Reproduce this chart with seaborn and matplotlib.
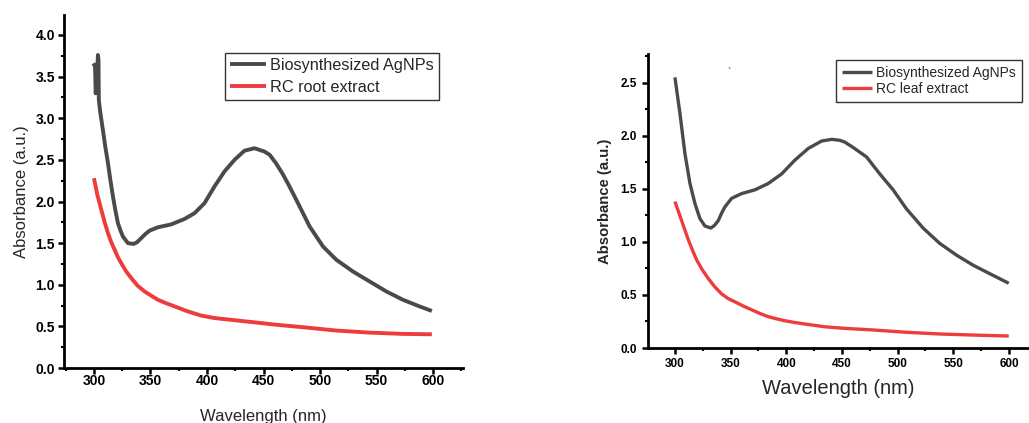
import matplotlib
matplotlib.use("Agg")
import matplotlib.pyplot as plt
import seaborn as sns
import pandas as pd
from matplotlib.ticker import MultipleLocator, FormatStrFormatter

# ---- Data ----
# Left panel: Biosynthesized AgNPs (root-based) and RC root extract
wl_np_a = [299.5, 301, 301.5, 302.5, 303.5, 304, 304.3, 305.5, 307.9, 310, 312.4, 314.5,
           316.8, 319, 321.2, 323.5, 325.6, 330, 335, 338, 341.8, 345.5, 349.2, 356.5,
           368.3, 380.1, 389, 397.8, 406.6, 415.4, 424.3, 433.1, 442, 450.8, 455.5, 461,
           467, 473, 479, 490.8, 502.6, 514.4, 529, 543.8, 558.6, 573.2, 588, 598.9]
abs_np_a = [3.66, 3.62, 3.30, 3.40, 3.76, 3.70, 3.22, 3.08, 2.86, 2.66, 2.46, 2.26,
            2.06, 1.89, 1.74, 1.65, 1.58, 1.50, 1.49, 1.51, 1.56, 1.61, 1.65, 1.69,
            1.725, 1.79, 1.86, 1.98, 2.18, 2.36, 2.50, 2.61, 2.64, 2.60, 2.56, 2.46,
            2.33, 2.18, 2.02, 1.70, 1.46, 1.30, 1.16, 1.04, 0.92, 0.82, 0.74, 0.685]
wl_root = [300, 303, 306.5, 309.5, 312.4, 315.3, 318.3, 321.2, 324.1, 328.5, 333, 338.5,
           344.8, 350.5, 356.5, 363.5, 371.3, 383, 394.8, 406.6, 427.2, 447.8, 461,
           485, 514.4, 543.8, 573.2, 598.9]
abs_root = [2.28, 2.08, 1.90, 1.75, 1.62, 1.51, 1.42, 1.33, 1.26, 1.16, 1.08, 0.99,
            0.92, 0.87, 0.82, 0.78, 0.74, 0.68, 0.63, 0.60, 0.57, 0.54, 0.52,
            0.49, 0.45, 0.425, 0.41, 0.405]

# Right panel: Biosynthesized AgNPs (leaf-based) and RC leaf extract
wl_np_b = [300, 304.5, 309, 313.5, 318, 322.4, 326.9, 332.3, 335.5, 338.9, 341.9, 344.9,
           350.9, 359.9, 371.8, 383.8, 395.8, 407.7, 419.7, 431.7, 440.7, 448.1, 452.6,
           460, 472.1, 484, 496, 508, 522.9, 537.9, 552.9, 567.8, 582.8, 599.8]
abs_np_b = [2.55, 2.21, 1.83, 1.55, 1.36, 1.22, 1.15, 1.13, 1.155, 1.20, 1.27, 1.33,
            1.41, 1.455, 1.49, 1.55, 1.64, 1.77, 1.88, 1.95, 1.966, 1.957, 1.94,
            1.89, 1.80, 1.64, 1.49, 1.31, 1.13, 0.985, 0.875, 0.78, 0.70, 0.61]
wl_leaf = [300, 303, 306, 309, 312, 315.8, 319.5, 324.7, 329.9, 335.9, 341.9, 347.9,
           353.9, 361.4, 368.9, 376.4, 383.8, 391.3, 398.7, 407.7, 416.7, 434.6, 452.6,
           478, 508, 537.9, 567.8, 599.8]
abs_leaf = [1.38, 1.29, 1.20, 1.11, 1.02, 0.92, 0.83, 0.735, 0.655, 0.575, 0.51, 0.465,
            0.435, 0.395, 0.36, 0.325, 0.295, 0.275, 0.257, 0.24, 0.226, 0.20, 0.185,
            0.17, 0.148, 0.132, 0.122, 0.113]

left_labels = ["Biosynthesized AgNPs", "RC root extract"]
right_labels = ["Biosynthesized AgNPs", "RC leaf extract"]
x_ticks = [300, 350, 400, 450, 500, 550, 600]

DARK = "#4a4a4a"
RED = "#ec3c3c"

sns.set_style("ticks")
plt.rcParams["font.family"] = ["Liberation Sans", "DejaVu Sans"]

fig = plt.figure(figsize=(10.29, 4.23), dpi=100)
axL = fig.add_axes([0.0622, 0.130, 0.3878, 0.8345])
axR = fig.add_axes([0.6294, 0.1773, 0.3706, 0.6950])

dfL1 = pd.DataFrame({"x": wl_np_a, "y": abs_np_a})
dfL2 = pd.DataFrame({"x": wl_root, "y": abs_root})
dfR1 = pd.DataFrame({"x": wl_np_b, "y": abs_np_b})
dfR2 = pd.DataFrame({"x": wl_leaf, "y": abs_leaf})

kw = dict(sort=False, solid_joinstyle="round", solid_capstyle="butt")
sns.lineplot(data=dfL1, x="x", y="y", ax=axL, color=DARK, lw=2.8, label=left_labels[0], **kw)
sns.lineplot(data=dfL2, x="x", y="y", ax=axL, color=RED, lw=2.8, label=left_labels[1], **kw)
sns.lineplot(data=dfR1, x="x", y="y", ax=axR, color=DARK, lw=2.4, label=right_labels[0], **kw)
sns.lineplot(data=dfR2, x="x", y="y", ax=axR, color=RED, lw=2.4, label=right_labels[1], **kw)


def style(ax, ylim, xlim, tick_fs, xpad, ypad):
    ax.set_xlim(*xlim)
    ax.set_ylim(*ylim)
    ax.set_xticks(x_ticks)
    ax.xaxis.set_minor_locator(MultipleLocator(25))
    ax.yaxis.set_major_locator(MultipleLocator(0.5))
    ax.yaxis.set_minor_locator(MultipleLocator(0.25))
    ax.yaxis.set_major_formatter(FormatStrFormatter("%.1f"))
    for s in ["top", "right"]:
        ax.spines[s].set_visible(False)
    for s in ["left", "bottom"]:
        ax.spines[s].set_linewidth(2.0)
        ax.spines[s].set_color("black")
    ax.tick_params(which="major", direction="out", length=4, width=1.8, colors="black",
                   labelsize=tick_fs)
    ax.tick_params(which="minor", direction="out", length=2.5, width=1.5, colors="black")
    ax.tick_params(axis="x", which="major", pad=xpad)
    ax.tick_params(axis="y", which="major", pad=ypad)
    for lab in ax.get_xticklabels() + ax.get_yticklabels():
        lab.set_fontweight("bold")


style(axL, (0, 4.24), (273.5, 626.5), 10, 0.5, 2.5)
style(axR, (0, 2.77), (275.5, 618), 8.5, 3.5, 3.5)

axL.set_xlabel("Wavelength (nm)", fontsize=12, labelpad=15)
axL.set_ylabel("Absorbance (a.u.)", fontsize=12, labelpad=5)
axR.set_xlabel("Wavelength (nm)", fontsize=14.5, labelpad=6)
axR.set_ylabel("Absorbance (a.u.)", fontsize=10.7, fontweight="bold", labelpad=6)

legL = axL.legend(loc="upper left", bbox_to_anchor=(225 / 1029, 1 - 52.7 / 423),
                  bbox_transform=fig.transFigure, fontsize=11.7, frameon=True,
                  fancybox=False, edgecolor="black", handlelength=2.2,
                  borderpad=0.3, labelspacing=0.45, handletextpad=0.3, borderaxespad=0)
legL.get_frame().set_linewidth(1.0)
legR = axR.legend(loc="upper left", bbox_to_anchor=(836 / 1029, 1 - 60 / 423),
                  bbox_transform=fig.transFigure, fontsize=10, frameon=True,
                  fancybox=False, edgecolor="black", handlelength=2.2,
                  borderpad=0.4, labelspacing=0.2, handletextpad=0.3, borderaxespad=0)
legR.get_frame().set_linewidth(1.0)

# small stray mark visible in the reference's right panel
fig.text(727 / 1029, 1 - 76 / 423, "`", fontsize=7, color="black")

fig.savefig("out.png", dpi=100)
